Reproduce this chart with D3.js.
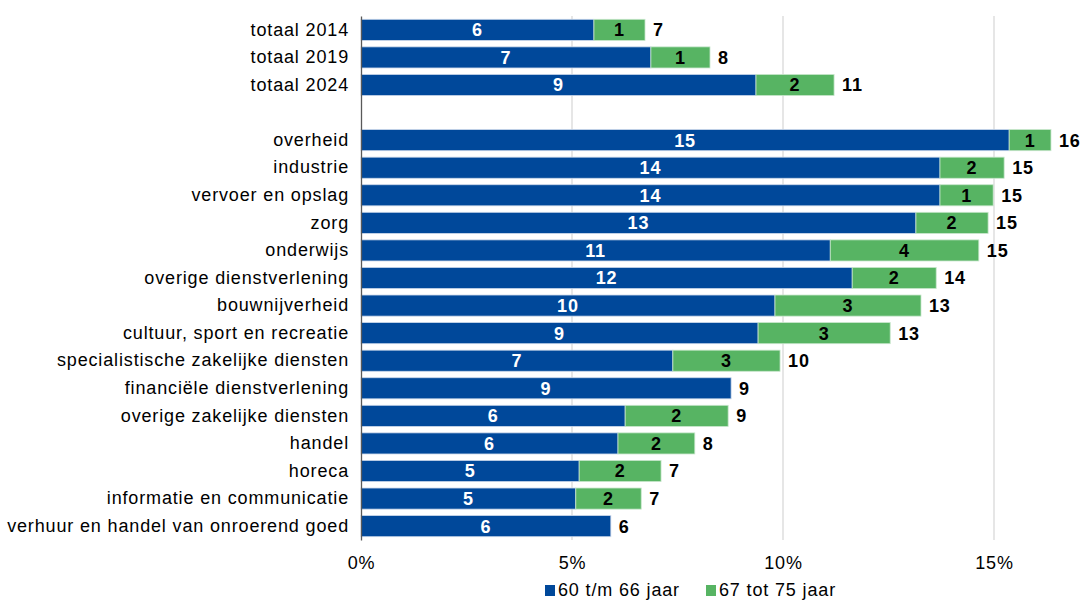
<!DOCTYPE html>
<html><head><meta charset="utf-8">
<script src="https://cdn.jsdelivr.net/npm/d3@7"></script>
<style>body{margin:0;background:#fff;}svg{display:block;font-family:"Liberation Sans",Arial,sans-serif;}svg text{letter-spacing:0.85px;}</style>
</head><body><svg id="c" width="1083" height="601"></svg>
<script>
const categories = ["totaal 2014","totaal 2019","totaal 2024","",
"overheid","industrie","vervoer en opslag","zorg","onderwijs","overige dienstverlening","bouwnijverheid","cultuur, sport en recreatie","specialistische zakelijke diensten","financiële dienstverlening","overige zakelijke diensten","handel","horeca","informatie en communicatie","verhuur en handel van onroerend goed"];
const age60to66 = [5.52,6.87,9.36,null,15.36,13.72,13.72,13.15,11.12,11.64,9.81,9.41,7.39,8.77,6.26,6.09,5.17,5.09,5.92];
const age67to75 = [1.21,1.40,1.85,null,0.99,1.52,1.26,1.71,3.52,1.99,3.46,3.13,2.54,0,2.44,1.82,1.94,1.55,0];
const seriesNames = ["60 t/m 66 jaar","67 tot 75 jaar"];
const xTicks = [0,5,10,15];
const colors = ["#00489a","#57b463"];

const svg = d3.select("#c");
const x = d3.scaleLinear().domain([0,5]).range([361,572]);
const y = d3.scaleBand().domain(categories.map((c,i)=>i)).range([16,540]).paddingInner(0.235).paddingOuter(0.12);

// gridlines
svg.append("g").selectAll("line").data(xTicks.slice(1)).join("line")
  .attr("x1",d=>x(d)).attr("x2",d=>x(d)).attr("y1",16).attr("y2",540)
  .attr("stroke","#d9d9d9").attr("stroke-width",1.3);

const rows = categories.map((c,i)=>({i,c,a:age60to66[i],b:age67to75[i]})).filter(r=>r.a!=null);
const g = svg.append("g");
g.selectAll("rect.a").data(rows).join("rect").attr("class","a")
  .attr("x",x(0)).attr("y",d=>y(d.i)).attr("width",d=>x(d.a)-x(0)).attr("height",y.bandwidth())
  .attr("fill",colors[0]).attr("stroke","#c9d6ea").attr("stroke-width",0.8);
g.selectAll("rect.b").data(rows.filter(r=>r.b>0)).join("rect").attr("class","b")
  .attr("x",d=>x(d.a)).attr("y",d=>y(d.i)).attr("width",d=>x(d.a+d.b)-x(d.a)).attr("height",y.bandwidth())
  .attr("fill",colors[1]).attr("stroke","#c7e6cb").attr("stroke-width",0.8);

const fs = 18;
g.selectAll("text.la").data(rows).join("text")
  .attr("x",d=>(x(0)+x(d.a))/2).attr("y",d=>y(d.i)+y.bandwidth()/2).attr("dy","0.36em")
  .attr("text-anchor","middle").attr("fill","#fff").attr("font-weight","bold").attr("font-size",fs)
  .text(d=>Math.round(d.a));
g.selectAll("text.lb").data(rows.filter(r=>r.b>0)).join("text")
  .attr("x",d=>(x(d.a)+x(d.a+d.b))/2).attr("y",d=>y(d.i)+y.bandwidth()/2).attr("dy","0.36em")
  .attr("text-anchor","middle").attr("fill","#000").attr("font-weight","bold").attr("font-size",fs)
  .text(d=>Math.round(d.b));
g.selectAll("text.lt").data(rows).join("text")
  .attr("x",d=>x(d.a+d.b)+8).attr("y",d=>y(d.i)+y.bandwidth()/2).attr("dy","0.36em")
  .attr("text-anchor","start").attr("fill","#000").attr("font-weight","bold").attr("font-size",fs)
  .text(d=>Math.round(d.a+d.b));

// y axis
const yAxis = d3.axisLeft(y).tickSize(0).tickPadding(12).tickFormat(i=>categories[i]);
const ya = svg.append("g").attr("transform",`translate(${x(0)},0)`).call(yAxis);
ya.select(".domain").attr("stroke","#595959").attr("stroke-width",1.3);
ya.selectAll("text").attr("font-size",fs).attr("fill","#000").attr("font-family","Liberation Sans, Arial, sans-serif");

// x axis
const xAxis = d3.axisBottom(x).tickValues(xTicks).tickSize(0).tickPadding(16).tickFormat(d=>d+"%");
const xa = svg.append("g").attr("transform","translate(0,540)").call(xAxis);
xa.select(".domain").remove();
xa.selectAll("text").attr("font-size",fs).attr("fill","#000").attr("font-family","Liberation Sans, Arial, sans-serif");

// legend
const leg = svg.append("g").attr("transform","translate(0,590)");
const legX = [545,706];
seriesNames.forEach((n,k)=>{
  leg.append("rect").attr("x",legX[k]).attr("y",-5).attr("width",10).attr("height",11).attr("fill",colors[k]);
  leg.append("text").attr("x",legX[k]+13).attr("y",0).attr("dy","0.36em").attr("font-size",fs).attr("fill","#000").text(n);
});
</script></body></html>
